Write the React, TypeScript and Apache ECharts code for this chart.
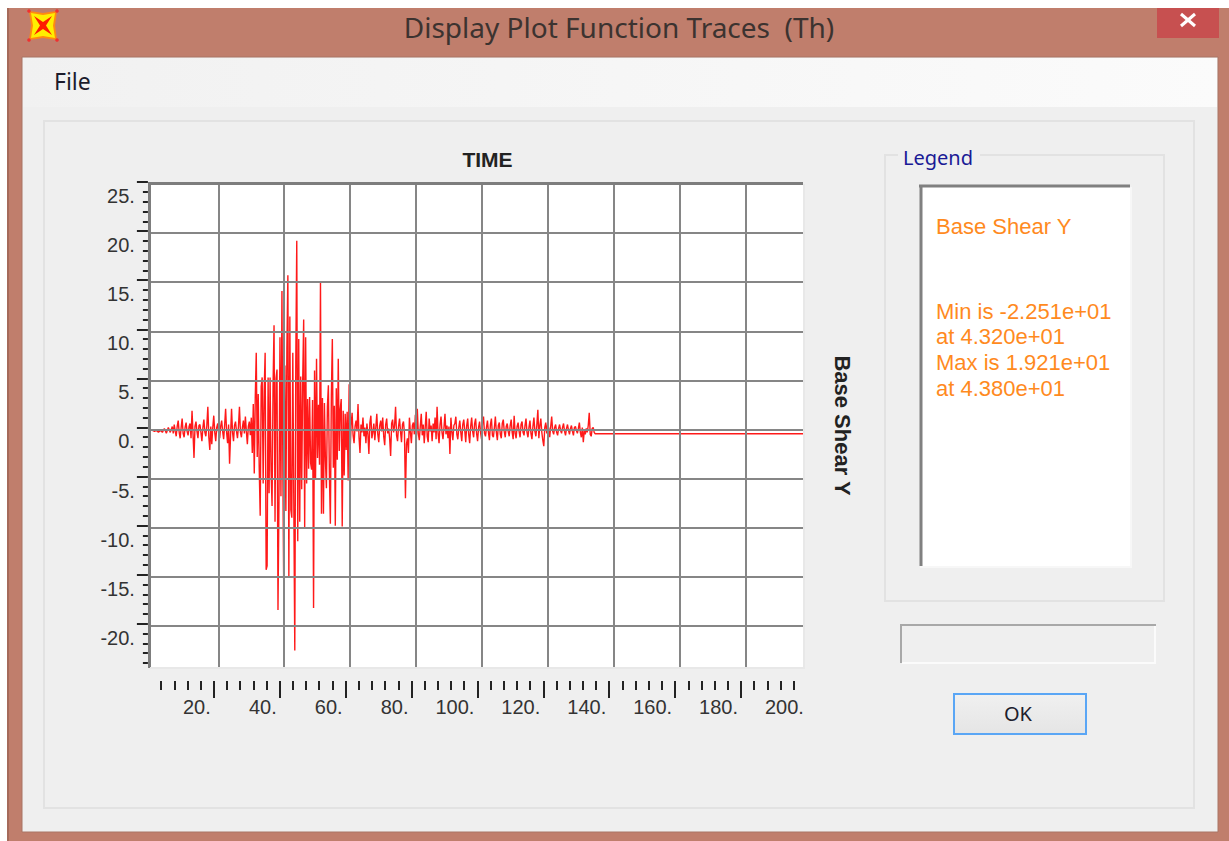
import React, { useEffect, useRef } from "react";
import * as echarts from "echarts";

const quietValues = [-0.1, -0.2, -0.1, -0.3, -0.1, -0.3, 0.1, -0.4, 0.2, -0.3];
// Sampled 0.3 s apart from t = 6.
const earlyValues = [
  0.3, -0.4, 0.5, -0.2, -0.7, 0.3, 0.9, -0.3, -0.9, 0.2, 1.1, -0.4, -0.8, 0.2, 0.7, -0.2, -0.6, 0.3, 0.6, -0.9,
  1.9, -0.4, -2.9, 0.3, 0.8, -0.2, -0.9, 0.4, 0.5, -0.3, -1.2, 0.2, 1, -0.3, -0.7, 0.4, 2.3, -0.8, -2.1, 0.3,
  -1.5, 0.2, 1.4, -0.3, -1.2, 0.2, 0.6, -0.4, -0.9, 0.3, 0.9, -0.2, -1, 0.4, 2.1, -0.3, -1.4, 0.5, -3.5, -0.6,
  2.1, -0.3, -1.2, 0.4, 0.8, -0.2, -0.9, 0.3, 2.3, -0.3, -0.8, 0.2, 0.9, -0.4, 1.3, -0.2, -1.5, 0.3, 0.8, -0.6,
];
// Sampled 0.3 s apart from t = 30.
const strongValues = [
  1.2, -2.4, 2.6, -4.5, 3.2, 7.8, -2.8, 3.6, -3.9, -8.8,
  4.4, 5.3, -5.5, 3.8, 7.8, -14.3, -13.9, 5.3, -6.5, 5.3,
  -4.2, -7.8, 4.3, 10.6, -9.4, 5.2, 6.1, -18.4, -7.2, 9.4,
  -6.8, 14.1, -5.5, -18.7, 6.5, -8.3, 8.2, 15.7, -15.1, 11.5,
  -8.2, -9, 7.8, -7.5, -22.51, 6.8, 19.21, -11.4, 9.2, -9.4,
  5.4, -6.1, 4.9, 11.2, -10, 9.4, -5.5, 3.1, -4, 3.3,
  -3.4, -4.1, 3, -18.2, 6, -5, 7.2, -2.9, 2.5, -3.6,
  15, -8.6, 3.2, -8.6, 2.7, -3.1, -6, 2.3, 4.5, -4.4,
  -9.6, 3.4, 9.2, -3.9, 2.4, -9.8, 4.2, -3.1, 7.2, -2.2,
  2.1, 3.1, -9.9, 1.9, -4.7, 1.6, -2.1, 1.8, -5.2, 4.6,
];
// Sampled 0.3 s apart from t = 60.
const lateValues = [
  -2.1, 0.4, 1.7, -0.6, -1.4, 0.3, 0.9, -0.2, 2.6, -0.8, -2.4, 0.5, -0.3, 1.2, -0.7, 0.2, -1.4, 0.6, -0.5, -2.5,
  0.7, 1.4, -0.9, -0.3, 0.6, -1.1, 0.2, 1.6, -0.5, -1.3, 0.4, 0.9, -0.2, 1.2, -0.7, -1.6, 0.5, 1.1, -0.4, 0.1,
  -0.9, -2.7, 0.6, 1, -0.3, 0.4, 2.3, -0.6, -1.2, 0.3, 1.1, -0.2, -1.3, 0.5, 0.8, -0.4, -7, -1.5, -0.9, -2.4,
  1.2, -0.3, -1.4, 0.4, 0.7, -0.5, 1.5, -1.2, 2.1, -0.4, -1.1, 0.3, 1.6, -0.6, 0.5, -1.4, 0.2, 1.8, -0.7, -1.3,
  1.1, -0.2, 0.4, -1.2, 0.6, -0.3, 1.2, -1, 2.3, -0.4, -1.4, 0.5, 1.3, -0.3, -1, 0.2, 1.6, -0.5, 0.4, -0.9,
  0.3, -2.5, 1.2, -0.2, -1.1, 0.4, 0.6, 1.3, -0.5, -1, 0.2, 0.9, -0.3, -1.2, 0.5, 1, -0.1, -1.3, 0.4, 1.1,
  -0.5, -1.4, 0.3, 1.2, -0.2, -0.8, 0.6, 1.1, -0.4, -1.2, 0.2, 0.8, -0.3, -1, 0.7, 1.3, -0.4, -0.7, 0.2, 0.9,
  -0.3, -1.1, 0.5, 1.1, -0.6, -0.8, 0.2, 1.3, -0.3, -1.1, 0.4, 0.7, -0.5, -0.9, 0.6, 1, -0.2, -0.8, 0.3, 0.6,
  -0.2, -0.7, 0.4, 1, -0.3, -1, 1.4, -0.4, -0.9, 0.3, 0.7, -0.2, -0.8, 0.5, 0.8, -0.3, -0.6, 0.4, 1.1, -0.3,
  -0.8, 0.2, 0.9, -0.4, -1, 0.3, 1.2, -0.2, -0.7, 0.5, 2, -0.9, 0.4, 1.1, -0.3, -1.1, -1.7, 0.2, 0.7, -0.4,
  0.6, 0.1, -0.8, 0.3, 1.3, -0.2, -0.5, 0.2, 0.5, -0.3, -0.6, 0.1, 0.5, -0.1, -0.4, 0.2, 0.6, -0.2, -0.6, 0.1,
  0.5, -0.1, -0.5, 0.1, 0.4, -0.2, -0.6, 0.2, 0.3, -0.1, -0.4, 0.1, 0.7, -0.3, -0.8, 0.2, -1.3, -0.1, -0.5, 0.1,
  -0.3, 0.4, 1.7, -0.5, -0.7, 0.1, 0.2, -0.3,
];
const tailPoints = [
  [134.4, -0.44],
  [197.5, -0.44],
];

const xMajorValues = [20, 40, 60, 80, 100, 120, 140, 160, 180, 200];
const xMinorValues = [
  4, 8, 12, 16, 24, 28, 32, 36, 44, 48, 52, 56, 64, 68, 72, 76, 84, 88, 92, 96,
  104, 108, 112, 116, 124, 128, 132, 136, 144, 148, 152, 156, 164, 168, 172, 176,
  184, 188, 192, 196,
];
const xGridValues = [20, 40, 60, 80, 100, 120, 140, 160, 180];
const yMajorValues = [-20, -15, -10, -5, 0, 5, 10, 15, 20, 25];
const yMinorValues = [
  -24, -23, -22, -21, -19, -18, -17, -16, -14, -13, -12, -11, -9, -8, -7, -6, -4, -3, -2, -1,
  1, 2, 3, 4, 6, 7, 8, 9, 11, 12, 13, 14, 16, 17, 18, 19, 21, 22, 23, 24,
];
const yGridValues = [-20, -15, -10, -5, 0, 5, 10, 15, 20];

const windowTitle = "Display Plot Function Traces  (Th)";
const menuLabel = "File";
const xTitle = "TIME";
const yTitle = "Base Shear Y";
const legendTitle = "Legend";
const legendLines = ["Min is -2.251e+01", "at 4.320e+01", "Max is 1.921e+01", "at 4.380e+01"];
const okLabel = "OK";

const traceData = [
  ...quietValues.map((v, i) => [+(i * 0.6).toFixed(1), v]),
  ...earlyValues.map((v, i) => [+(6 + i * 0.3).toFixed(1), v]),
  ...strongValues.map((v, i) => [+(30 + i * 0.3).toFixed(1), v]),
  ...lateValues.map((v, i) => [+(60 + i * 0.3).toFixed(1), v]),
  ...tailPoints,
];

const UI = "'Noto Sans', sans-serif";
const ARIAL = "'Liberation Sans', Arial, sans-serif";

const rect = (x: number, y: number, w: number, h: number, style: any, z = 0) => ({
  type: "rect", shape: { x, y, width: w, height: h }, style, z, silent: true,
});
const line = (x1: number, y1: number, x2: number, y2: number, stroke: string, lineWidth: number, z = 0) => ({
  type: "line", shape: { x1, y1, x2, y2 }, style: { stroke, lineWidth }, z, silent: true,
});
const text = (x: number, y: number, t: string, font: string, fill: string, align = "left", z = 1) => ({
  type: "text", x, y, z, silent: true,
  style: { text: t, font, fill, textAlign: align, textVerticalAlign: "middle", textBaseline: "middle" },
});
const star = (x0: number, y0: number, x1: number, y1: number, dent: number, fill: string, z: number) => {
  const cx = (x0 + x1) / 2;
  const cy = (y0 + y1) / 2;
  return {
    type: "polygon", z, silent: true,
    shape: { points: [[x0, y0], [cx, y0 + dent], [x1, y0], [x1 - dent, cy], [x1, y1], [cx, y1 - dent], [x0, y1], [x0 + dent, cy]] },
    style: { fill },
  };
};
const dot = (cx: number, cy: number) => ({
  type: "circle", shape: { cx, cy, r: 1.8 }, style: { fill: "#f03030" }, z: 4, silent: true,
});

function chromeElements() {
  const brown = "#c07e6c";
  const panel = "#efefef";
  const edge = "#e2e2e2";
  const legendFont = `22px ${ARIAL}`;
  const legendColor = "#ff8a1e";
  return [
    rect(0, 0, 1229, 841, { fill: "#ffffff" }),
    rect(7, 8, 1222, 833, { fill: brown }),
    rect(7, 8, 2, 833, { fill: "#a56a5a" }),
    rect(22, 57, 1196, 775, { fill: panel, stroke: "#a97565", lineWidth: 1 }),
    rect(23, 58, 1194, 49, {
      fill: new echarts.graphic.LinearGradient(0, 0, 1, 0, [
        { offset: 0, color: "#f1f1f1" },
        { offset: 1, color: "#fbfbfb" },
      ]),
    }),
    rect(1157, 8, 62, 30, { fill: "#c75050" }),
    line(1181, 14, 1195, 26, "#ffffff", 3, 1),
    line(1195, 14, 1181, 26, "#ffffff", 3, 1),
    star(29, 11, 57, 40, 2, "#ff8a10", 1),
    star(31, 13, 55, 38, 2, "#ffee00", 2),
    star(34, 16, 52, 35, 6, "#ff1a00", 3),
    dot(29, 11), dot(57, 11), dot(29, 40), dot(57, 40),
    text(619, 27, windowTitle, `28px ${UI}`, "#3c3330", "center"),
    text(54, 81, menuLabel, `23px ${UI}`, "#1c1c2c"),
    rect(44, 121, 1150, 687, { fill: panel, stroke: edge, lineWidth: 2 }),
    // plot background
    rect(150, 184, 653, 483, { fill: "#ffffff" }),
    // legend group
    rect(885, 155, 279, 446, { fill: panel, stroke: edge, lineWidth: 2 }),
    rect(898, 148, 82, 14, { fill: panel }, 0),
    text(903, 157, legendTitle, `20px ${UI}`, "#1a1a96"),
    rect(920, 186, 210, 380, { fill: "#ffffff" }),
    line(919, 186, 1130, 186, "#808080", 3, 1),
    line(921, 185, 921, 566, "#808080", 3, 1),
    line(1131, 187, 1131, 567, "#f7f7f7", 2, 1),
    line(920, 567, 1132, 567, "#f7f7f7", 2, 1),
    text(936, 226, yTitle, legendFont, legendColor),
    text(936, 311, legendLines[0], legendFont, legendColor),
    text(936, 336, legendLines[1], legendFont, legendColor),
    text(936, 362, legendLines[2], legendFont, legendColor),
    text(936, 388, legendLines[3], legendFont, legendColor),
    // status box
    line(901, 625, 1156, 625, "#a8a8a8", 2, 1),
    line(901, 624, 901, 663, "#a8a8a8", 2, 1),
    line(1155, 626, 1155, 664, "#fbfbfb", 2, 1),
    line(902, 663, 1156, 663, "#fbfbfb", 2, 1),
    // button
    rect(954, 694, 132, 40, {
      fill: new echarts.graphic.LinearGradient(0, 0, 0, 1, [
        { offset: 0, color: "#f0f0f0" },
        { offset: 1, color: "#e5e5e5" },
      ]),
      stroke: "#5aa6f5",
      lineWidth: 2,
    }),
    text(1018, 713, okLabel, `20px ${UI}`, "#20202c", "center"),
    // plot frame, over the trace
    line(148, 183.5, 803, 183.5, "#7d7d7d", 3, 20),
    line(149.5, 182, 149.5, 668, "#7d7d7d", 3, 20),
    line(150, 668, 804, 668, "#e8e8e8", 2, 20),
    line(804, 184, 804, 669, "#e8e8e8", 2, 20),
  ];
}

export default function App() {
  const ref = useRef<HTMLDivElement>(null);
  useEffect(() => {
    document.body.style.margin = "0";
    const chart = echarts.init(ref.current!, undefined, { renderer: "svg" });
    const gridLine = { show: true, lineStyle: { color: "#868686", width: 2 } };
    const tickFont = { fontFamily: ARIAL, fontSize: 20, color: "#333333" };
    const none = { show: false };
    const noLine = { show: false, onZero: false };
    const tickStyle = { color: "#222222", width: 2 };
    chart.setOption({
      animation: false,
      backgroundColor: "#ffffff",
      graphic: { elements: chromeElements() },
      grid: [
        { left: 150, top: 184, width: 653, height: 483, z: 3 },
        { left: 147.9, top: 182, width: 659, height: 483, z: 3 },
      ],
      xAxis: [
        {
          type: "value", gridIndex: 0, position: "top", min: -0.76, max: 197.5, z: 6,
          name: xTitle, nameLocation: "middle", nameGap: 14,
          nameTextStyle: { fontFamily: ARIAL, fontWeight: "bold", fontSize: 21, color: "#222222", padding: [0, 0, 0, 22] },
          axisLine: noLine, axisLabel: none,
          axisTick: { show: false, customValues: xGridValues },
          splitLine: gridLine,
        },
        {
          type: "value", gridIndex: 1, position: "bottom", min: 0, max: 200, offset: 16, z: 3,
          axisLine: noLine, splitLine: none,
          axisTick: { show: true, length: 17, customValues: xMajorValues.slice(0, -1), lineStyle: tickStyle },
          axisLabel: {
            ...tickFont, customValues: xMajorValues, align: "right", padding: [0, 3, 0, 0], margin: 16,
            formatter: (v: number) => `${v}.`,
          },
        },
        {
          type: "value", gridIndex: 1, position: "bottom", min: 0, max: 200, offset: 16, z: 3,
          axisLine: noLine, splitLine: none, axisLabel: none,
          axisTick: { show: true, length: 9, customValues: xMinorValues, lineStyle: tickStyle },
        },
      ],
      yAxis: [
        {
          type: "value", gridIndex: 0, position: "right", min: -24.2, max: 25, z: 6,
          name: yTitle, nameLocation: "middle", nameRotate: -90, nameGap: 28,
          nameTextStyle: { fontFamily: ARIAL, fontWeight: "bold", fontSize: 22, color: "#222222" },
          axisLine: noLine, axisLabel: none,
          axisTick: { show: false, customValues: yGridValues },
          splitLine: gridLine,
        },
        {
          type: "value", gridIndex: 1, position: "left", min: -24.2, max: 25, z: 3,
          axisLine: noLine, splitLine: none,
          axisTick: { show: true, length: 11, customValues: yMajorValues, lineStyle: tickStyle },
          axisLabel: {
            ...tickFont, customValues: yMajorValues, verticalAlign: "top", padding: [4, 0, 0, 0], margin: 13,
            formatter: (v: number) => `${v}.`,
          },
        },
        {
          type: "value", gridIndex: 1, position: "left", min: -24.2, max: 25, z: 3,
          axisLine: noLine, splitLine: none, axisLabel: none,
          axisTick: { show: true, length: 5, customValues: yMinorValues, lineStyle: tickStyle },
        },
      ],
      series: [
        {
          type: "line", name: yTitle, xAxisIndex: 0, yAxisIndex: 0, z: 5,
          data: traceData, showSymbol: false, symbol: "none",
          lineStyle: { color: "#ff0000", width: 1.4, opacity: 0.9, join: "bevel" },
        },
      ],
    });
    return () => chart.dispose();
  }, []);
  return <div ref={ref} style={{ width: 1229, height: 841 }} />;
}
